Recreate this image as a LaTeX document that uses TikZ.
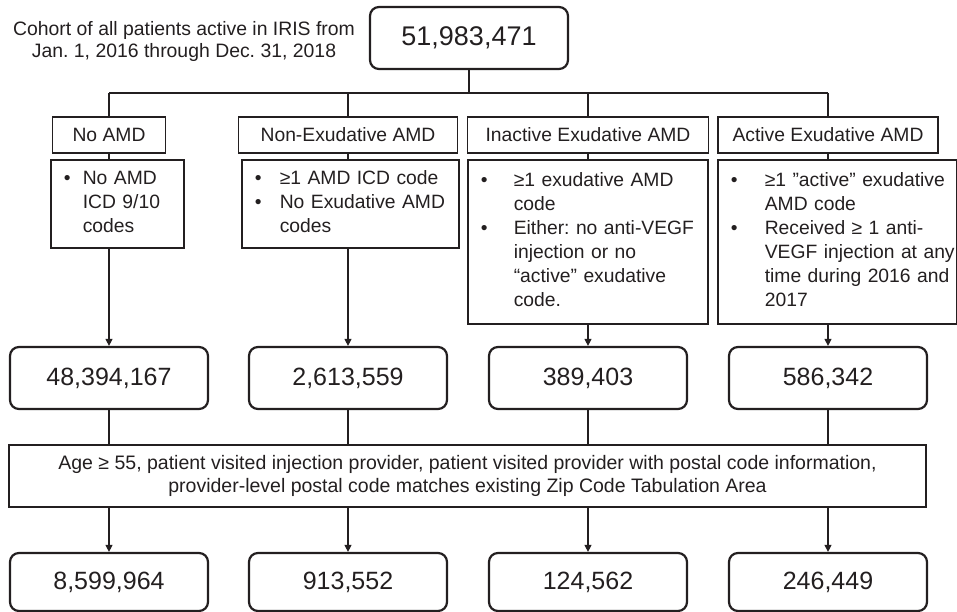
\documentclass[tikz,border=0pt]{standalone}
\usepackage{fontspec}
\setmainfont{Liberation Sans}
\usepackage{xcolor}
\usetikzlibrary{arrows.meta,positioning}
\frenchspacing
\definecolor{ink}{HTML}{231F20}
\newcommand{\critlist}[2]{\begin{tabular}{@{}p{#1pt}@{}l@{}}#2\end{tabular}}
\tikzset{
  countbox/.style={draw=ink,line width=2.2pt,rounded corners=9pt,minimum width=198pt,minimum height=62pt,inner sep=0pt,font=\fontsize{25}{30}\selectfont,text=ink},
  groupbox/.style={draw=ink,line width=1.6pt,minimum height=36pt,inner sep=0pt,font=\fontsize{19.3}{24}\selectfont,text=ink},
  critbox/.style={draw=ink,line width=1.6pt,anchor=north west,inner xsep=13pt,inner ysep=0pt,align=left,font=\fontsize{19.3}{24}\selectfont,text=ink},
  filterbox/.style={draw=ink,line width=1.6pt,minimum width=917pt,minimum height=62pt,inner sep=0pt,align=center,font=\fontsize{19.5}{23}\selectfont,text=ink},
  wire/.style={draw=ink,line width=1.1pt},
  flow/.style={-{Triangle[length=7pt,width=7pt]},draw=ink,line width=1.1pt}
}
\begin{document}
\begin{tikzpicture}[x=1pt,y=-1pt]
    \useasboundingbox (0,0) rectangle (957,612);

    \node[align=center,font=\fontsize{19.4}{22}\selectfont,text=ink] (cohort) at (184,41) {Cohort of all patients active in IRIS from\\Jan. 1, 2016 through Dec. 31, 2018};
    \node[countbox,font=\fontsize{27}{32}\selectfont] (total) at (469,38) {51,983,471};
    \coordinate (split) at (469,93);

    \node[groupbox,minimum width=113pt] (grpno) at (109,135) {No AMD};
    \node[groupbox,minimum width=219pt] (grpnonex) at (348,135) {Non-Exudative AMD};
    \node[groupbox,minimum width=241pt] (grpinact) at (588,135) {Inactive Exudative AMD};
    \node[groupbox,minimum width=220pt] (grpact) at (828,135) {Active Exudative AMD};

    \node[critbox,text width=107pt,minimum height=88pt] (critno) at (50,159)
      {\critlist{19}{\textbullet & No AMD\\ & ICD 9/10\\ & codes}};
    \node[critbox,text width=191pt,minimum height=88pt] (critnonex) at (241,159)
      {\critlist{25}{\textbullet & ≥1 AMD ICD code\\ \textbullet & No Exudative AMD\\ & codes}};
    \node[critbox,text width=214pt,minimum height=164pt] (critinact) at (467,159)
      {\critlist{33}{\textbullet & ≥1 exudative AMD\\ & code\\ \textbullet & Either: no anti-VEGF\\ & injection or no\\ & “active” exudative\\ & code.}};
    \node[critbox,text width=213pt,minimum height=164pt] (critact) at (717,159)
      {\critlist{34}{\textbullet & ≥1 ”active” exudative\\ & AMD code\\ \textbullet & Received ≥ 1 anti-\\ & VEGF injection at any\\ & time during 2016 and\\ & 2017}};

    \node[countbox] (cntno) at (109,378) {48,394,167};
    \node[countbox] (cntnonex) at (348,378) {2,613,559};
    \node[countbox] (cntinact) at (588,378) {389,403};
    \node[countbox] (cntact) at (828,378) {586,342};

    \node[filterbox] (filter) at (467.5,476) {Age ≥ 55, patient visited injection provider, patient visited provider with postal code information,\\provider-level postal code matches existing Zip Code Tabulation Area};

    \node[countbox,minimum height=58pt] (finno) at (109,582) {8,599,964};
    \node[countbox,minimum height=58pt] (finnonex) at (348,582) {913,552};
    \node[countbox,minimum height=58pt] (fininact) at (588,582) {124,562};
    \node[countbox,minimum height=58pt] (finact) at (828,582) {246,449};

    \draw[wire] (total) -- (split);
    \draw[wire] (grpno.north |- split) -- (grpact.north |- split);
    \draw[wire] (grpno.north |- split) -- (grpno.north);
    \draw[wire] (grpnonex.north |- split) -- (grpnonex.north);
    \draw[wire] (grpinact.north |- split) -- (grpinact.north);
    \draw[wire] (grpact.north |- split) -- (grpact.north);

    \draw[wire] (grpno.south) -- (grpno.south |- critno.north);
    \draw[wire] (grpnonex.south) -- (grpnonex.south |- critnonex.north);
    \draw[wire] (grpinact.south) -- (grpinact.south |- critinact.north);
    \draw[wire] (grpact.south) -- (grpact.south |- critact.north);

    \draw[flow] (cntno.north |- critno.south) -- (cntno.north);
    \draw[flow] (cntnonex.north |- critnonex.south) -- (cntnonex.north);
    \draw[flow] (cntinact.north |- critinact.south) -- (cntinact.north);
    \draw[flow] (cntact.north |- critact.south) -- (cntact.north);

    \draw[wire] (cntno) -- (cntno.south |- filter.north);
    \draw[wire] (cntnonex) -- (cntnonex.south |- filter.north);
    \draw[wire] (cntinact) -- (cntinact.south |- filter.north);
    \draw[wire] (cntact) -- (cntact.south |- filter.north);

    \draw[flow] (finno.north |- filter.south) -- (finno.north);
    \draw[flow] (finnonex.north |- filter.south) -- (finnonex.north);
    \draw[flow] (fininact.north |- filter.south) -- (fininact.north);
    \draw[flow] (finact.north |- filter.south) -- (finact.north);
\end{tikzpicture}
\end{document}
